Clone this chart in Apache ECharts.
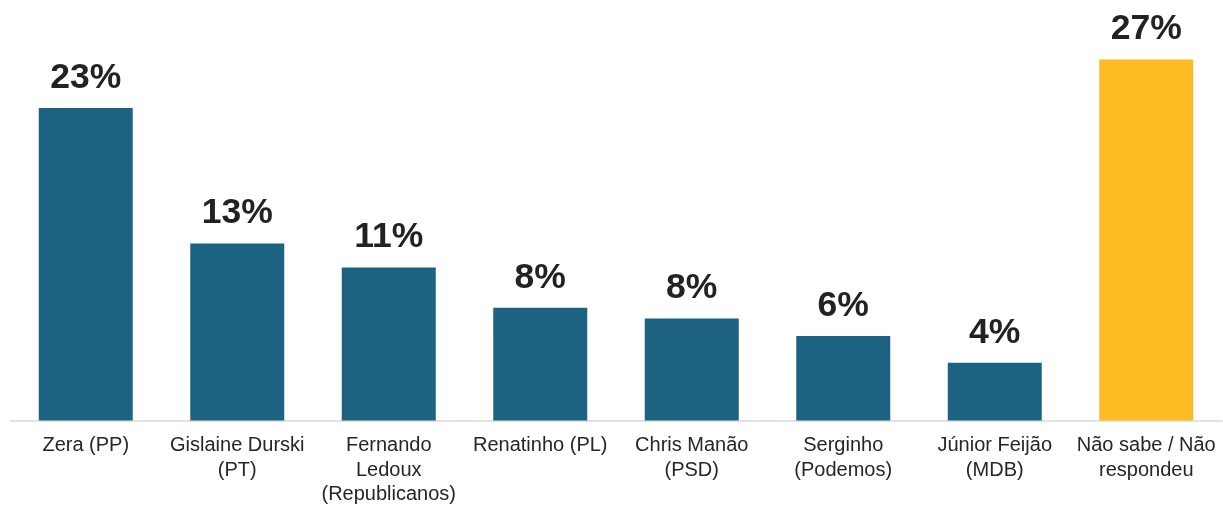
<!DOCTYPE html>
<html><head><meta charset="utf-8">
<script src="https://cdn.jsdelivr.net/npm/echarts@6/dist/echarts.min.js"></script>
<style>html,body{margin:0;padding:0;background:#fff;}#c{width:1223px;height:507px;}</style>
</head><body><div id="c"></div>
<script>
const categories = ['Zera (PP)', 'Gislaine Durski\n(PT)', 'Fernando\nLedoux\n(Republicanos)', 'Renatinho (PL)', 'Chris Manão\n(PSD)', 'Serginho\n(Podemos)', 'Júnior Feijão\n(MDB)', 'Não sabe / Não\nrespondeu'];
const values = [23.3, 13.2, 11.4, 8.4, 7.6, 6.3, 4.3, 26.9];
const valueLabels = ['23%', '13%', '11%', '8%', '8%', '6%', '4%', '27%'];
const barColors = ['#1C6382', '#1C6382', '#1C6382', '#1C6382', '#1C6382', '#1C6382', '#1C6382', '#FBBC24'];

const chart = echarts.init(document.getElementById('c'));
chart.setOption({
  animation: false,
  grid: { left: 10, right: 1, top: 18, bottom: 85, containLabel: false },
  xAxis: {
    type: 'category', data: categories,
    axisLine: { lineStyle: { color: '#D9D9D9', width: 1.5 } },
    axisTick: { show: false },
    axisLabel: { interval: 0, margin: 13, color: '#262626', fontSize: 20, lineHeight: 24.5, fontFamily: '"Liberation Sans", Arial, sans-serif' }
  },
  yAxis: { type: 'value', min: 0, max: 30, show: false, splitLine: { show: false } },
  series: [{
    type: 'bar', barWidth: 94,
    data: values.map((v, i) => ({ value: v, itemStyle: { color: barColors[i] } })),
    label: {
      show: true, position: 'top', distance: 12,
      formatter: p => valueLabels[p.dataIndex],
      color: '#222222', fontSize: 35.5, fontWeight: 'bold', fontFamily: '"Liberation Sans", Arial, sans-serif'
    }
  }]
});
</script></body></html>
